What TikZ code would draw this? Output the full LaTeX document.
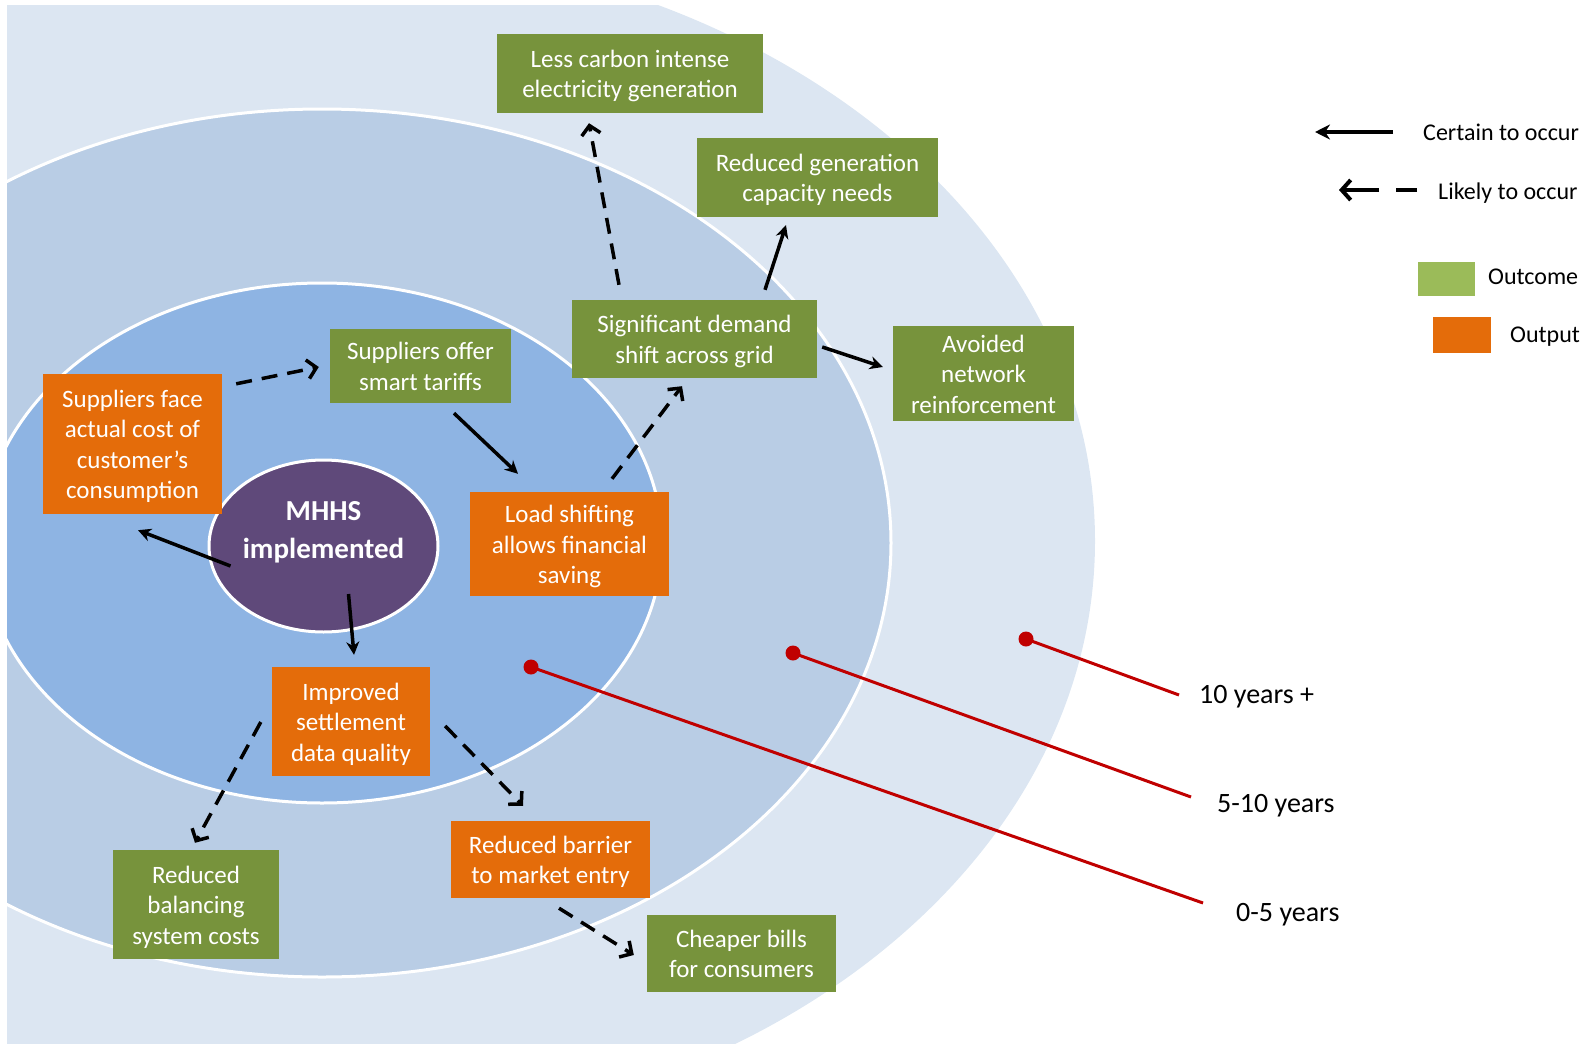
\documentclass[tikz,border=0pt]{standalone}
\usepackage{fontspec}
\setmainfont{Carlito}
\usetikzlibrary{arrows.meta,shapes.geometric}
\definecolor{ringa}{HTML}{DCE6F2}
\definecolor{ringb}{HTML}{B9CDE5}
\definecolor{ringc}{HTML}{8EB4E3}
\definecolor{outc}{HTML}{77933C}
\definecolor{outp}{HTML}{E46C0A}
\definecolor{legg}{HTML}{9BBB59}
\definecolor{mhhsc}{HTML}{5F497A}
\definecolor{redl}{HTML}{C00000}
\begin{document}
\begin{tikzpicture}[x=1pt,y=-1pt,
  boxtext/.style={inner sep=0pt, align=center, text=white, font=\fontsize{25}{30.5}\selectfont,
    yshift=-4pt, execute at end node={\rule[-7pt]{0pt}{7pt}}},
  mybox/.style={inner sep=0pt, label={[boxtext]center:{#1}}},
  outcomebox/.style={mybox={#1}, fill=outc},
  outputbox/.style={mybox={#1}, fill=outp},
  sol/.style={line width=3.5pt, -{Stealth[length=13pt,width=13pt]}},
  dsh/.style={line width=3.5pt, dash pattern=on 16pt off 10pt, -{Straight Barb[length=9pt,width=19pt,line width=3.5pt]}},
  legtext/.style={inner sep=0pt, anchor=west, font=\fontsize{24}{30}\selectfont},
  yeartext/.style={inner sep=0pt, anchor=west, font=\fontsize{28}{34}\selectfont},
  reddot/.style={circle, fill=redl, minimum size=15pt, inner sep=0pt},
  redline/.style={draw=redl, line width=3pt}
]
\useasboundingbox (0,0) rectangle (1585,1044);
\begin{scope}
  \clip (7,5) rectangle (1585,1044);
  \fill[ringa] (322,541) ellipse [x radius=773pt, y radius=595pt];
  \filldraw[fill=ringb, draw=white, line width=3pt] (322,543) ellipse [x radius=569pt, y radius=434pt];
  \filldraw[fill=ringc, draw=white, line width=3pt] (322,543) ellipse [x radius=340pt, y radius=260pt];
\end{scope}

% central ellipse
\node[ellipse, fill=mhhsc, draw=white, line width=3pt, minimum width=229pt, minimum height=172pt, inner sep=0pt] (mhhs) at (323.5,546) {};
\node[text=white, inner sep=0pt, align=center, font=\bfseries\fontsize{29}{37.5}\selectfont] (mhhstext) at ([shift={(0,-13.5)}]mhhs.center) {MHHS\\implemented};

% boxes
\node[outcomebox={Less carbon intense\\electricity generation}, minimum width=266pt, minimum height=79pt] (lesscarbon) at (630,73.5) {};
\node[outcomebox={Reduced generation\\capacity needs}, minimum width=241pt, minimum height=79pt] (redgen) at (817.5,177.5) {};
\node[outcomebox={Avoided\\network\\reinforcement}, minimum width=181pt, minimum height=95pt] (avoided) at (983.5,373.5) {};
\node[outcomebox={Significant demand\\shift across grid}, minimum width=245pt, minimum height=78pt] (signif) at (694.5,339) {};
\node[outcomebox={Suppliers offer\\smart tariffs}, minimum width=181pt, minimum height=74pt] (offer) at (420.5,366) {};
\node[outputbox={Suppliers face\\actual cost of\\customer’s\\consumption}, minimum width=179pt, minimum height=140pt] (face) at (132.5,444) {};
\node[outputbox={Load shifting\\allows financial\\saving}, minimum width=199pt, minimum height=104pt] (load) at (569.5,544) {};
\node[outputbox={Improved\\settlement\\data quality}, minimum width=158pt, minimum height=109pt] (improved) at (351,721.5) {};
\node[outcomebox={Reduced\\balancing\\system costs}, minimum width=166pt, minimum height=109pt] (balancing) at (196,904.5) {};
\node[outputbox={Reduced barrier\\to market entry}, minimum width=199pt, minimum height=77pt] (barrier) at (550.5,859.5) {};
\node[outcomebox={Cheaper bills\\for consumers}, minimum width=189pt, minimum height=77pt] (cheaper) at (741.5,953.5) {};

% connectors
\draw[sol] ([shift={(-93,20)}]mhhs.center) -- ([shift={(5.5,16)}]face.south);
\draw[sol] ([shift={(25,48)}]mhhs.center) -- ([shift={(3,-12)}]improved.north);
\draw[dsh] ([shift={(14,10)}]face.north east) -- ([shift={(-11,1)}]offer.west);
\draw[sol] ([shift={(33.5,10)}]offer.south) -- ([shift={(-51.5,-18)}]load.north);
\draw[dsh] ([shift={(42.5,-13)}]load.north) -- ([shift={(-12.5,8)}]signif.south);
\draw[dsh] ([shift={(-75.5,-15)}]signif.north) -- ([shift={(-41,10)}]lesscarbon.south);
\draw[sol] ([shift={(70.5,-10)}]signif.north) -- ([shift={(-31.5,8)}]redgen.south);
\draw[sol] ([shift={(5,8)}]signif.east) -- ([shift={(-10,-6.5)}]avoided.west);
\draw[dsh] ([shift={(-11,0.5)}]improved.west) -- ([shift={(-1,-7)}]balancing.north);
\draw[dsh] ([shift={(15,4.5)}]improved.east) -- ([shift={(-27.5,-15)}]barrier.north);
\draw[dsh] ([shift={(8.5,10)}]barrier.south) -- ([shift={(-13,1.5)}]cheaper.west);

% legend
\node[legtext] (lcert) at (1423,132) {Certain to occur};
\node[legtext] (llike) at (1438,193) {Likely to occur};
\coordinate (lsa) at (1393,132);
\coordinate (lsb) at (1315,132);
\coordinate (lda) at (1417,190);
\coordinate (ldb) at (1339,190);
\draw[line width=4pt, -{Stealth[length=15pt,width=15pt]}] (lsa) -- (lsb);
\draw[line width=4pt, dash pattern=on 21pt off 17pt on 60pt off 0pt, -{Straight Barb[length=9pt,width=20pt,line width=4pt]}] (lda) -- (ldb);
\node[fill=legg, minimum width=57pt, minimum height=34pt, inner sep=0pt] (lgreen) at (1446.5,279) {};
\node[legtext] (loutc) at (1488,277) {Outcome};
\node[fill=outp, minimum width=58pt, minimum height=36pt, inner sep=0pt] (lorange) at (1462,335) {};
\node[legtext] (loutp) at (1510,337) {Output};

% year markers
\node[yeartext] (y10) at (1199,697) {10 years +};
\node[yeartext] (y5) at (1217,806) {5-10 years};
\node[yeartext] (y0) at (1236,915) {0-5 years};
\node[reddot] (d10) at (1026,639) {};
\node[reddot] (d5) at (793,653) {};
\node[reddot] (d0) at (531,667) {};
\draw[redline] (d10.center) -- ([shift={(-20,-2)}]y10.west);
\draw[redline] (d5.center) -- ([shift={(-26,-9)}]y5.west);
\draw[redline] (d0.center) -- ([shift={(-33,-12)}]y0.west);
\end{tikzpicture}
\end{document}
